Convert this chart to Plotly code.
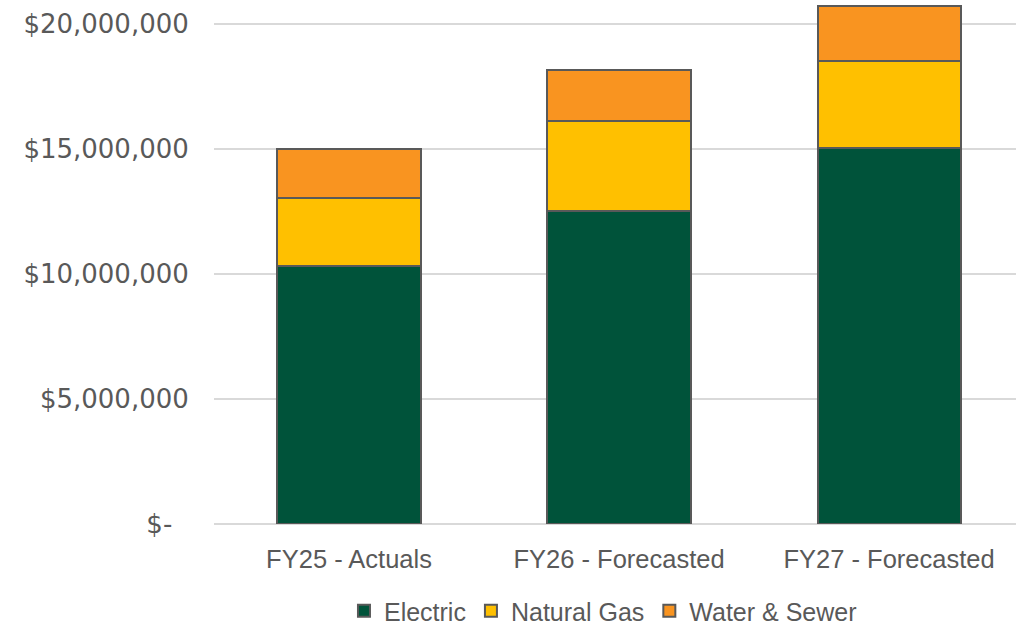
import plotly.graph_objects as go

categories = ["FY25 - Actuals", "FY26 - Forecasted", "FY27 - Forecasted"]
electric = [10_320_000, 12_530_000, 15_030_000]
natural_gas = [2_730_000, 3_600_000, 3_490_000]
water_sewer = [1_950_000, 2_030_000, 2_210_000]

tick_vals = [0, 5_000_000, 10_000_000, 15_000_000, 20_000_000]
tick_text = ["$-  ", "$5,000,000", "$10,000,000", "$15,000,000", "$20,000,000"]

FONT = "Liberation Sans"
YFONT = "DejaVu Sans"
TXT = "#595959"
OUTLINE = dict(color="#595959", width=2)

fig = go.Figure()
fig.add_trace(go.Bar(name="Electric", x=categories, y=electric,
                     marker=dict(color="#00533A", line=OUTLINE)))
fig.add_trace(go.Bar(name="Natural Gas", x=categories, y=natural_gas,
                     marker=dict(color="#FFC000", line=OUTLINE)))
fig.add_trace(go.Bar(name="Water & Sewer", x=categories, y=water_sewer,
                     marker=dict(color="#F99420", line=OUTLINE)))

fig.update_layout(
    barmode="stack",
    bargap=0.47,
    width=1016, height=634,
    margin=dict(l=214, r=0, t=0, b=110, autoexpand=False),
    paper_bgcolor="white", plot_bgcolor="white",
    font=dict(family=FONT, size=25.5, color=TXT),
    showlegend=True,
    legend=dict(orientation="h", x=0.485, xanchor="center",
                yref="container", y=-0.009, yanchor="bottom",
                font=dict(family=FONT, size=25, color=TXT), itemsizing="constant",
                traceorder="normal", bgcolor="rgba(0,0,0,0)"),
    xaxis=dict(range=[-0.5, 2.47], showgrid=False, showline=False, zeroline=False,
               automargin=False,
               ticks="outside", ticklen=12, tickcolor="rgba(0,0,0,0)",
               tickfont=dict(family=FONT, size=25.5, color=TXT)),
    yaxis=dict(range=[0, 20_960_000], tickvals=tick_vals, ticktext=tick_text,
               automargin=False,
               showgrid=True, gridcolor="#D9D9D9", gridwidth=2,
               zeroline=True, zerolinecolor="#D9D9D9", zerolinewidth=2,
               ticks="outside", ticklen=19, tickcolor="rgba(0,0,0,0)",
               tickfont=dict(family=YFONT, size=26, color=TXT)),
)

fig.write_html("out.html")
